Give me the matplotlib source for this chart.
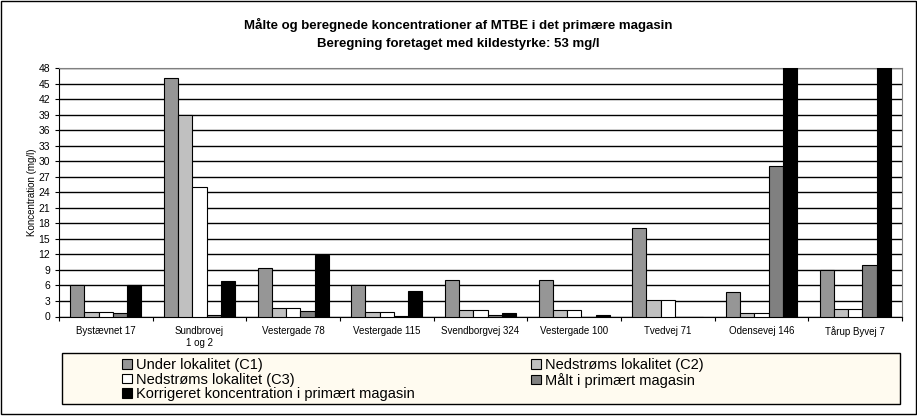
import numpy as np
import matplotlib.pyplot as plt
from matplotlib.patches import Rectangle, Patch

plt.rcParams['font.family'] = ['Liberation Sans', 'DejaVu Sans']

# data (mg/l)
locations = ['Bystævnet 17', 'Sundbrovej\n1 og 2', 'Vestergade 78', 'Vestergade 115',
             'Svendborgvej 324', 'Vestergade 100', 'Tvedvej 71', 'Odensevej 146', 'Tårup Byvej 7']
c1 = [6.0, 46.0, 9.4, 6.1, 7.0, 7.0, 17.0, 4.8, 8.9]
c2 = [0.9, 39.0, 1.7, 0.9, 1.2, 1.2, 3.2, 0.7, 1.5]
c3 = [0.9, 25.0, 1.7, 0.9, 1.2, 1.2, 3.2, 0.7, 1.5]
maalt = [0.7, 0.3, 1.1, 0.15, 0.2, 0.0, 0.0, 29.0, 10.0]
korr = [6.0, 6.8, 11.9, 4.9, 0.6, 0.2, 0.0, 60.0, 60.0]

series = [
    ('Under lokalitet (C1)', c1, '#969696'),
    ('Nedstrøms lokalitet (C2)', c2, '#C0C0C0'),
    ('Nedstrøms lokalitet (C3)', c3, '#FFFFFF'),
    ('Målt i primært magasin', maalt, '#808080'),
    ('Korrigeret koncentration i primært magasin', korr, '#000000'),
]

fig = plt.figure(figsize=(9.17, 4.16), dpi=100)
ax = fig.add_axes([59 / 917, 1 - 316.5 / 416, 843 / 917, 248.5 / 416])

x = np.arange(len(locations))
w = 0.152
handles = []
for i, (name, vals, col) in enumerate(series):
    ax.bar(x + (i - 2) * w, vals, width=w, color=col, edgecolor='black', linewidth=0.8, zorder=3)
    handles.append(Patch(facecolor=col, edgecolor='black', linewidth=0.8, label=name))

ax.set_xlim(-0.5, len(locations) - 0.5)
ax.set_ylim(0, 48)
ax.set_yticks(np.arange(0, 49, 3))
ax.tick_params(axis='y', labelsize=7.5, length=3, width=0.8)
ax.yaxis.grid(True, color='black', linewidth=1.0, zorder=0)

ax.set_xticks(np.arange(-0.5, len(locations), 1))
ax.set_xticklabels([])
ax.set_xticks(x, minor=True)
ax.set_xticklabels(locations, minor=True, fontsize=7)
ax.tick_params(axis='x', which='major', length=3, width=0.8)
ax.tick_params(axis='x', which='minor', length=0, pad=7)

ax.set_ylabel('Koncentration (mg/l)', fontsize=7, labelpad=1)
ax.spines['top'].set_color('#808080')
ax.spines['right'].set_color('#808080')
ax.set_axisbelow(True)

fig.text(0.5, 0.94, 'Målte og beregnede koncentrationer af MTBE i det primære magasin',
         ha='center', va='center', fontsize=9.5, fontweight='bold')
fig.text(0.5, 0.894, 'Beregning foretaget med kildestyrke: 53 mg/l',
         ha='center', va='center', fontsize=9.5, fontweight='bold')

# legend box
fig.patches.append(Rectangle((62 / 917, 1 - 404 / 416), 838 / 917, 51 / 416,
                             transform=fig.transFigure, facecolor='#FFFBF0',
                             edgecolor='black', linewidth=1, zorder=0))
kw = dict(frameon=False, fontsize=10.5, handlelength=0.65, handleheight=0.65,
          handletextpad=0.3, labelspacing=0.02, borderpad=0)
fig.legend(handles=[handles[0], handles[2], handles[4]], loc='upper left',
           bbox_to_anchor=(115 / 917, 1 - 351 / 416), **kw)
fig.legend(handles=[handles[1], handles[3]], loc='upper left',
           bbox_to_anchor=(524 / 917, 1 - 351 / 416), **kw)

# outer chart frame
fig.patches.append(Rectangle((0.001, 0.006), 0.998, 0.992, transform=fig.transFigure,
                             facecolor='none', edgecolor='black', linewidth=1))

fig.savefig('out.png', dpi=100)
